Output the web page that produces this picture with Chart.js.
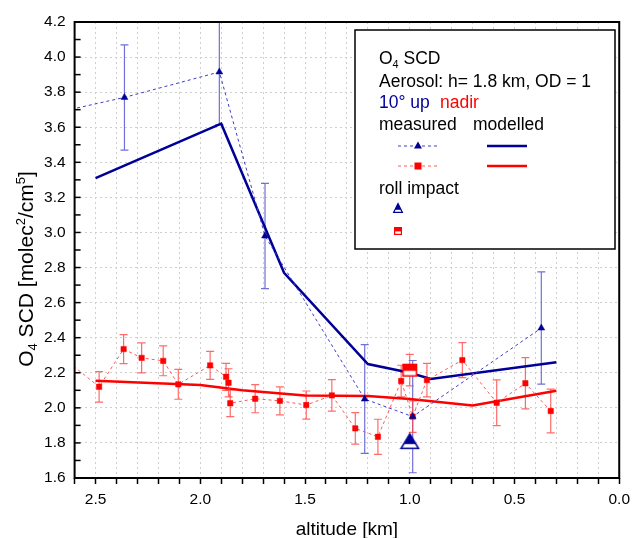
<!DOCTYPE html>
<html>
<head>
<meta charset="utf-8">
<script src="https://cdn.jsdelivr.net/npm/chart.js@4.4.0/dist/chart.umd.min.js"></script>
<style>
  html, body { margin: 0; padding: 0; background: #ffffff; }
  canvas { display: block; }
</style>
</head>
<body>
<canvas id="chart" width="636" height="538"></canvas>
<script>
// O4 slant column densities vs. flight altitude (km)

// 10° up viewing direction, measured (first point lies just outside the axis range)
const upMeasAlt = [2.70, 2.362, 1.909, 1.691, 1.215, 0.986, 0.372];
const upMeasVal = [3.68, 3.77, 3.915, 2.98, 2.05, 1.95, 2.455];
const upMeasErr = [0.30, 0.30, 0.30, 0.30, 0.31, 0.32, 0.32];

// 10° up, modelled
const upModAlt = [2.5, 1.9, 1.6, 1.2, 1.0, 0.9, 0.3];
const upModVal = [3.31, 3.62, 2.77, 2.25, 2.20, 2.165, 2.26];

// nadir, measured
const nadirMeasAlt = [2.65, 2.483, 2.366, 2.28, 2.177, 2.105, 1.953, 1.877, 1.865, 1.857, 1.738,
                      1.62, 1.494, 1.372, 1.26, 1.152, 1.041, 0.986, 0.918, 0.749, 0.585, 0.448, 0.327];
const nadirMeasVal = [2.28, 2.12, 2.335, 2.285, 2.268, 2.134, 2.242, 2.177, 2.143, 2.026, 2.052,
                      2.04, 2.016, 2.071, 1.883, 1.835, 2.153, 1.95, 2.158, 2.272, 2.029, 2.14, 1.982];
const nadirMeasErr = [0.09, 0.087, 0.083, 0.086, 0.085, 0.085, 0.08, 0.077, 0.08, 0.076, 0.08,
                      0.08, 0.08, 0.09, 0.09, 0.10, 0.09, 0.09, 0.095, 0.10, 0.13, 0.146, 0.125];

// nadir, modelled
const nadirModAlt = [2.5, 2.0, 1.8, 1.5, 1.2, 1.0, 0.7, 0.3];
const nadirModVal = [2.155, 2.13, 2.10, 2.07, 2.068, 2.05, 2.013, 2.098];

// roll impact
const rollUpAlt = [1.0];
const rollUpVal = [1.81];
const rollNadirAlt = [1.0];
const rollNadirVal = [2.215];
const rollNadirErr = [0.09];

// axis ranges
const xRange = [0, 2.6];
const yRange = [1.6, 4.2];

const NAVY = '#000096';
const RED = '#ff0000';
const FONT = '"Liberation Sans", Arial, sans-serif';

const pts = (xs, ys) => xs.map((x, i) => ({ x: x, y: ys[i] }));

// half-filled marker images for the roll impact points
function halfTriangle(w, h, color, lw) {
  const c = document.createElement('canvas');
  c.width = w + 2; c.height = h + 2;
  const g = c.getContext('2d');
  const x0 = 1, y0 = 1;
  g.beginPath();
  g.moveTo(x0 + w / 2, y0 + lw / 2);
  g.lineTo(x0 + w - lw / 2, y0 + h - lw / 2);
  g.lineTo(x0 + lw / 2, y0 + h - lw / 2);
  g.closePath();
  g.fillStyle = '#ffffff';
  g.fill();
  g.save();
  g.clip();
  g.fillStyle = color;
  g.fillRect(0, 0, w + 2, y0 + h * 0.68);
  g.restore();
  g.strokeStyle = color;
  g.lineWidth = lw;
  g.stroke();
  return c;
}
function halfSquare(w, h, color, lw) {
  const c = document.createElement('canvas');
  c.width = w + 2; c.height = h + 2;
  const g = c.getContext('2d');
  g.fillStyle = '#ffffff';
  g.fillRect(1, 1, w, h);
  g.fillStyle = color;
  g.fillRect(1, 1, w, h * 0.55);
  g.strokeStyle = color;
  g.lineWidth = lw;
  g.strokeRect(1 + lw / 2, 1 + lw / 2, w - lw, h - lw);
  return c;
}
const rollUpMarker = halfTriangle(19, 16, NAVY, 1.5);
const rollNadirMarker = halfSquare(15, 13, RED, 1.5);

// error bars drawn through the chart scales
const errorBars = {
  id: 'errorBars',
  beforeDatasetsDraw(chart) {
    const { ctx, chartArea: a, scales: { x, y } } = chart;
    ctx.save();
    ctx.beginPath();
    ctx.rect(a.left, a.top, a.right - a.left, a.bottom - a.top);
    ctx.clip();
    chart.data.datasets.forEach(ds => {
      if (!ds.errors) return;
      ctx.strokeStyle = ds.errorColor;
      ctx.lineWidth = 1.2;
      ctx.setLineDash([]);
      const cap = 4;
      ds.data.forEach((p, i) => {
        const e = ds.errors[i];
        const px = x.getPixelForValue(p.x);
        const y1 = y.getPixelForValue(p.y + e);
        const y2 = y.getPixelForValue(p.y - e);
        ctx.beginPath();
        ctx.moveTo(px, y1); ctx.lineTo(px, y2);
        ctx.moveTo(px - cap, y1); ctx.lineTo(px + cap, y1);
        ctx.moveTo(px - cap, y2); ctx.lineTo(px + cap, y2);
        ctx.stroke();
      });
    });
    ctx.restore();
  }
};

// text with sub/superscripts
function richText(ctx, parts, x, y, size, align) {
  const items = parts.map(p => {
    const s = p.s ? size * 0.62 : size;
    ctx.font = s + 'px ' + FONT;
    return { t: p.t, s: p.s, size: s, w: ctx.measureText(p.t).width };
  });
  const total = items.reduce((a, b) => a + b.w, 0);
  let cx = align === 'center' ? x - total / 2 : x;
  ctx.textBaseline = 'alphabetic';
  ctx.textAlign = 'left';
  items.forEach(it => {
    ctx.font = it.size + 'px ' + FONT;
    const dy = it.s === 'sub' ? size * 0.2 : it.s === 'sup' ? -size * 0.4 : 0;
    ctx.fillText(it.t, cx, y + dy);
    cx += it.w;
  });
}

// frame, inward y ticks, axis titles and the key box
const decorations = {
  id: 'decorations',
  afterDatasetsDraw(chart) {
    const { ctx, chartArea: a, scales: { y } } = chart;
    ctx.save();
    ctx.strokeStyle = '#000';
    ctx.lineWidth = 1.5;
    y.ticks.forEach(t => {
      const py = y.getPixelForValue(t.value);
      ctx.beginPath();
      ctx.moveTo(a.left, py);
      ctx.lineTo(a.left + 6, py);
      ctx.stroke();
    });
    ctx.lineWidth = 2;
    ctx.strokeRect(a.left, a.top, a.right - a.left, a.bottom - a.top);
    ctx.restore();
  },
  afterDraw(chart) {
    const { ctx, chartArea: a } = chart;
    ctx.save();
    ctx.fillStyle = '#000';
    // x title
    ctx.font = '19px ' + FONT;
    ctx.textAlign = 'center';
    ctx.textBaseline = 'alphabetic';
    ctx.fillText('altitude [km]', (a.left + a.right) / 2, 535);
    // y title
    ctx.save();
    ctx.translate(33, 269);
    ctx.rotate(-Math.PI / 2);
    richText(ctx, [{ t: 'O' }, { t: '4', s: 'sub' }, { t: ' SCD [molec' }, { t: '2', s: 'sup' },
                   { t: '/cm' }, { t: '5', s: 'sup' }, { t: ']' }], 0, 0, 21, 'center');
    ctx.restore();

    // key box
    const bx = 355, by = 30, bw = 260, bh = 219;
    ctx.fillStyle = '#ffffff';
    ctx.fillRect(bx, by, bw, bh);
    ctx.strokeStyle = '#000';
    ctx.lineWidth = 1.5;
    ctx.strokeRect(bx, by, bw, bh);

    const fs = 17.5;
    const tx = 379;
    ctx.fillStyle = '#000';
    richText(ctx, [{ t: 'O' }, { t: '4', s: 'sub' }, { t: ' SCD' }], tx, 64, fs, 'left');
    richText(ctx, [{ t: 'Aerosol: h= 1.8 km, OD = 1' }], tx, 87, fs, 'left');
    ctx.fillStyle = NAVY;
    richText(ctx, [{ t: '10° up' }], tx, 108, fs, 'left');
    ctx.fillStyle = RED;
    richText(ctx, [{ t: 'nadir' }], 440, 108, fs, 'left');
    ctx.fillStyle = '#000';
    richText(ctx, [{ t: 'measured' }], tx, 130, fs, 'left');
    richText(ctx, [{ t: 'modelled' }], 473, 130, fs, 'left');
    richText(ctx, [{ t: 'roll impact' }], tx, 194, fs, 'left');

    // sample lines
    const sample = (y0, dashColor, solidColor, marker) => {
      ctx.setLineDash([3, 3]);
      ctx.lineWidth = 1;
      ctx.strokeStyle = dashColor;
      ctx.beginPath(); ctx.moveTo(398, y0); ctx.lineTo(437, y0); ctx.stroke();
      ctx.setLineDash([]);
      ctx.fillStyle = solidColor;
      if (marker === 'tri') {
        ctx.beginPath();
        ctx.moveTo(418, y0 - 4.5); ctx.lineTo(422, y0 + 2.5); ctx.lineTo(414, y0 + 2.5);
        ctx.closePath(); ctx.fill();
      } else {
        ctx.fillRect(414.5, y0 - 3.5, 7, 7);
      }
      ctx.lineWidth = 2.5;
      ctx.strokeStyle = solidColor;
      ctx.beginPath(); ctx.moveTo(487, y0); ctx.lineTo(527, y0); ctx.stroke();
    };
    sample(146, '#3c3cc8', NAVY, 'tri');
    sample(166, '#ff5a5a', RED, 'sq');
    const smallTri = halfTriangle(10, 10, NAVY, 1.2);
    ctx.drawImage(smallTri, 398 - smallTri.width / 2, 208 - smallTri.height / 2);
    const smallSq = halfSquare(8, 8, RED, 1.2);
    ctx.drawImage(smallSq, 398 - smallSq.width / 2, 231 - smallSq.height / 2);
    ctx.restore();
  }
};

const gridColor = '#cfcfcf';

new Chart(document.getElementById('chart'), {
  type: 'scatter',
  data: {
    datasets: [
      {
        label: 'roll impact 10° up',
        data: pts(rollUpAlt, rollUpVal),
        pointStyle: rollUpMarker,
        pointRadius: 9,
        showLine: false
      },
      {
        label: 'roll impact nadir',
        data: pts(rollNadirAlt, rollNadirVal),
        errors: rollNadirErr,
        errorColor: 'rgba(255,70,70,0.8)',
        pointStyle: rollNadirMarker,
        pointRadius: 7,
        showLine: false
      },
      {
        label: '10° up measured',
        data: pts(upMeasAlt, upMeasVal),
        errors: upMeasErr,
        errorColor: '#7070d8',
        showLine: true,
        borderColor: '#3c3cc8',
        borderWidth: 1,
        borderDash: [3, 3],
        pointStyle: 'triangle',
        pointRadius: 4,
        pointBackgroundColor: NAVY,
        pointBorderColor: NAVY,
        pointBorderWidth: 0.5
      },
      {
        label: 'nadir measured',
        data: pts(nadirMeasAlt, nadirMeasVal),
        errors: nadirMeasErr,
        errorColor: 'rgba(255,70,70,0.8)',
        showLine: true,
        borderColor: '#ff5a5a',
        borderWidth: 1,
        borderDash: [3, 3],
        pointStyle: 'rect',
        pointRadius: 3.8,
        pointBackgroundColor: RED,
        pointBorderColor: RED,
        pointBorderWidth: 0.5
      },
      {
        label: '10° up modelled',
        data: pts(upModAlt, upModVal),
        showLine: true,
        borderColor: NAVY,
        borderWidth: 2.5,
        pointRadius: 0
      },
      {
        label: 'nadir modelled',
        data: pts(nadirModAlt, nadirModVal),
        showLine: true,
        borderColor: RED,
        borderWidth: 2.5,
        pointRadius: 0
      }
    ]
  },
  options: {
    responsive: false,
    animation: false,
    devicePixelRatio: 1,
    layout: { padding: { left: 0, right: 12, top: 22, bottom: 0 } },
    plugins: {
      legend: { display: false },
      tooltip: { enabled: false }
    },
    elements: { line: { tension: 0 } },
    scales: {
      x: {
        type: 'linear',
        reverse: true,
        min: xRange[0],
        max: xRange[1],
        afterFit: s => { s.height = 60; },
        ticks: {
          stepSize: 0.1,
          autoSkip: false,
          maxRotation: 0,
          color: '#000',
          padding: 6,
          font: { family: FONT, size: 15.5 },
          callback: v => (Math.round(v * 10) % 5 === 0 ? v.toFixed(1) : '')
        },
        grid: {
          color: gridColor,
          lineWidth: 1,
          drawTicks: true,
          tickLength: 6,
          tickColor: '#000',
          tickWidth: 1.5,
          tickBorderDash: []
        },
        border: { display: false, dash: [2, 3] }
      },
      y: {
        type: 'linear',
        min: yRange[0],
        max: yRange[1],
        afterFit: s => { s.width = 74.6; },
        ticks: {
          stepSize: 0.1,
          autoSkip: false,
          color: '#000',
          padding: 9,
          font: { family: FONT, size: 15.5 },
          callback: v => (Math.round(v * 10) % 2 === 0 ? v.toFixed(1) : '')
        },
        grid: {
          color: c => (Math.round(c.tick.value * 10) % 2 === 0 ? gridColor : 'rgba(0,0,0,0)'),
          lineWidth: 1,
          drawTicks: false
        },
        border: { display: false, dash: [2, 3] }
      }
    }
  },
  plugins: [errorBars, decorations]
});
</script>
</body>
</html>
